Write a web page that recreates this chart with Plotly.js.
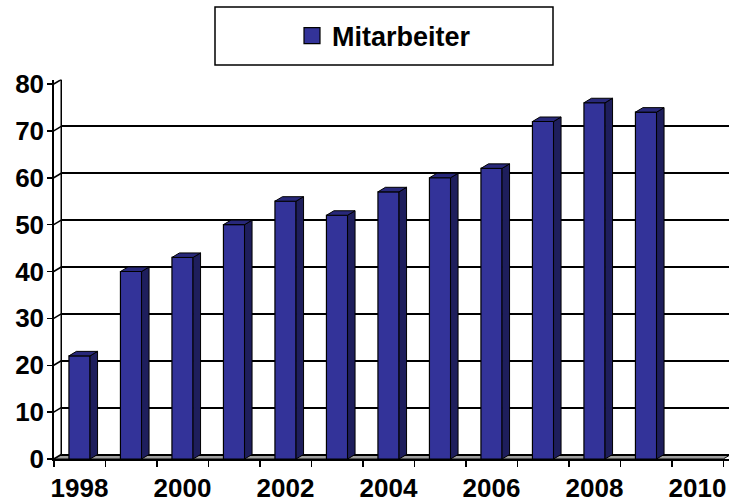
<!DOCTYPE html>
<html>
<head>
<meta charset="utf-8">
<script src="https://cdn.plot.ly/plotly-3.0.1.min.js"></script>
<style>html,body{margin:0;padding:0;background:#fff;}#chart{width:729px;height:503px;}</style>
</head>
<body>
<div id="chart"></div>
<script>
// ---- data ----
const years = [1998, 1999, 2000, 2001, 2002, 2003, 2004, 2005, 2006, 2007, 2008, 2009];
const mitarbeiter = [22, 40, 43, 50, 55, 52, 57, 60, 62, 72, 76, 74];
const seriesName = 'Mitarbeiter';
const xTickVals = [1998, 2000, 2002, 2004, 2006, 2008, 2010];
const yTickVals = [0, 10, 20, 30, 40, 50, 60, 70, 80];

// ---- geometry / style ----
const W = 729, H = 503;
const xStart = 1997.5, xEnd = 2010.5;
const pxPerX = 51.5, pxPerY = 4.6875;
const depthPx = 7.5, risePx = 4.5;
const d = depthPx / pxPerX;      // depth in x units
const h = risePx / pxPerY;       // depth rise in y units
const yMax = 80;
const barW = 0.41;
const frontLeftPx = 53.75, zeroPx = 459;
const xRangeEnd = xStart + (W - frontLeftPx) / pxPerX;
const topPx = zeroPx - (yMax + h) * pxPerY;
const font = {family: 'Liberation Sans, Arial, sans-serif', size: 26, color: '#000', weight: 'bold'};

// side and top faces of the bars
const sideX = [], sideY = [], topX = [], topY = [];
years.forEach((yr, i) => {
  const v = mitarbeiter[i];
  const r = yr + barW / 2, l = yr - barW / 2;
  sideX.push(r, r + d, r + d, r, r, null);
  sideY.push(0, h, v + h, v, 0, null);
  topX.push(l, l + d, r + d, r, l, null);
  topY.push(v, v + h, v + h, v, v, null);
});

// left wall diagonals
const diagX = [], diagY = [];
yTickVals.forEach(v => { diagX.push(xStart, xStart + d, null); diagY.push(v, v + h, null); });

const traces = [
  { // white left wall covering back gridlines
    type: 'scatter', mode: 'lines', x: [xStart, xStart + d, xStart + d, xStart, xStart],
    y: [0, h, yMax + h + 2, yMax + h + 2, 0], fill: 'toself', fillcolor: '#ffffff',
    line: {width: 0, color: 'rgba(0,0,0,0)'}, hoverinfo: 'skip', showlegend: false
  },
  { // back wall left edge (on back-wall axis)
    type: 'scatter', mode: 'lines', x: [xStart + d, xStart + d], y: [0, yMax], yaxis: 'y2',
    line: {color: '#000', width: 1.5}, hoverinfo: 'skip', showlegend: false
  },
  {
    type: 'scatter', mode: 'lines', x: diagX, y: diagY,
    line: {color: '#000', width: 1.5}, hoverinfo: 'skip', showlegend: false
  },
  {
    type: 'bar', x: years, y: mitarbeiter, width: barW, name: seriesName,
    marker: {color: '#333399', line: {color: '#000', width: 1.2}}, showlegend: false
  },
  {
    type: 'scatter', mode: 'lines', x: sideX, y: sideY, fill: 'toself', fillcolor: '#1e1e5c',
    line: {color: '#000', width: 1}, hoverinfo: 'skip', showlegend: false
  },
  {
    type: 'scatter', mode: 'lines', x: topX, y: topY, fill: 'toself', fillcolor: '#28287a',
    line: {color: '#000', width: 1}, hoverinfo: 'skip', showlegend: false
  },
  { // legend entry
    type: 'scatter', mode: 'markers', x: [null], y: [null], name: seriesName,
    marker: {symbol: 'square', size: 17, color: '#333399', line: {color: '#000', width: 1.2}},
    showlegend: true
  }
];

const layout = {
  width: W, height: H,
  margin: {l: 0, r: 0, t: 0, b: 0, pad: 0},
  paper_bgcolor: '#ffffff', plot_bgcolor: '#ffffff',
  showlegend: true,
  legend: {
    x: 384 / W, y: 1 - 36 / H, xanchor: 'center', yanchor: 'middle',
    orientation: 'h', font: {family: font.family, size: 27, color: '#000', weight: 'bold'},
    bgcolor: 'rgba(0,0,0,0)', borderwidth: 0, itemsizing: 'trace'
  },
  xaxis: {
    domain: [frontLeftPx / W, 1], range: [xStart, xRangeEnd], type: 'linear',
    tickmode: 'array', tickvals: xTickVals, ticktext: xTickVals.map(String),
    ticks: 'outside', ticklen: 0, tickcolor: '#000', ticklabelstandoff: 5,
    minor: {tickmode: 'linear', tick0: xStart, dtick: 1, ticks: 'outside', ticklen: 6, tickwidth: 1.5, tickcolor: '#000', showgrid: false},
    showline: true, linecolor: '#000', linewidth: 2, showgrid: false, zeroline: false,
    tickfont: font, fixedrange: true
  },
  yaxis: {
    domain: [(H - zeroPx) / H, (H - topPx) / H], range: [0, yMax + h],
    tickmode: 'array', tickvals: yTickVals, ticks: 'outside', ticklen: 5, tickwidth: 1.5, tickcolor: '#000',
    ticklabelstandoff: -2,
    showline: true, linecolor: '#000', linewidth: 1.5, showgrid: false, zeroline: false,
    tickfont: font, fixedrange: true
  },
  yaxis2: {
    overlaying: 'y', range: [-h, yMax], tickmode: 'array', tickvals: yTickVals,
    showticklabels: false, ticks: '', showgrid: true, gridcolor: '#000', gridwidth: 2,
    zeroline: false, showline: false, fixedrange: true
  },
  shapes: [
    { // floor
      type: 'path', xref: 'x', yref: 'y', layer: 'below',
      path: `M ${xStart},0 L ${xEnd},0 L ${xEnd + d},${h} L ${xStart + d},${h} Z`,
      fillcolor: '#a0a0a0', line: {color: '#000', width: 1}
    },
    { // legend box
      type: 'rect', xref: 'paper', yref: 'paper',
      x0: 215 / W, x1: 553 / W, y0: 1 - 65 / H, y1: 1 - 7 / H,
      line: {color: '#000', width: 1.5}, fillcolor: 'rgba(0,0,0,0)'
    }
  ]
};

Plotly.newPlot('chart', traces, layout, {displayModeBar: false, staticPlot: true});
</script>
</body>
</html>
